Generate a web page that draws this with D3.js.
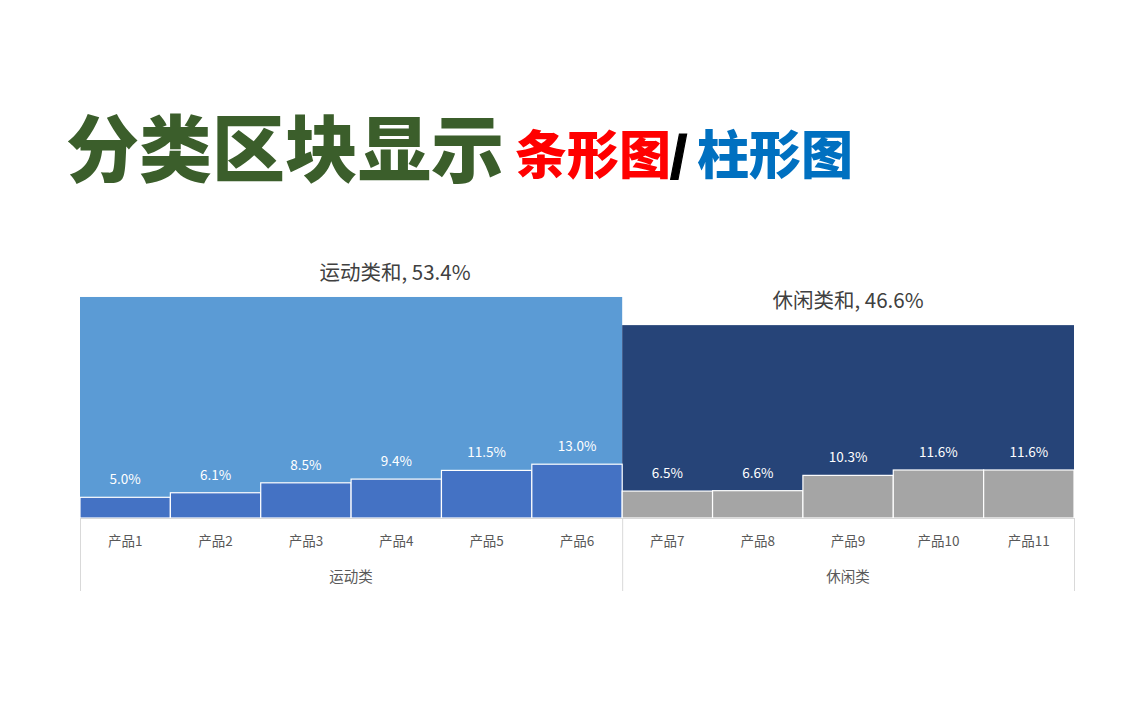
<!DOCTYPE html>
<html><head><meta charset="utf-8">
<script src="https://cdn.jsdelivr.net/npm/d3@7"></script>
<style>body{margin:0;background:#fff;}svg{display:block;font-family:"Noto Sans CJK SC","Noto Sans",sans-serif;}</style>
</head><body>
<svg id="c" width="1136" height="710"></svg>
<script>
const products = ["产品1","产品2","产品3","产品4","产品5","产品6","产品7","产品8","产品9","产品10","产品11"];
const productGroup = ["运动类","运动类","运动类","运动类","运动类","运动类","休闲类","休闲类","休闲类","休闲类","休闲类"];
const productValues = [5.0,6.1,8.5,9.4,11.5,13.0,6.5,6.6,10.3,11.6,11.6];
const groups = ["运动类","休闲类"];
const groupTotals = [53.4,46.6];
const groupLabels = ["运动类和, 53.4%","休闲类和, 46.6%"];
const groupColors = ["#5B9BD5","#264478"];
const barColors = ["#4472C4","#A5A5A5"];

const svg = d3.select("#c");
const left = 80, right = 1074, base = 518;
const x = d3.scaleBand().domain(products).range([left,right]).padding(0);
const y = d3.scaleLinear().domain([0,60]).range([base, base-60*4.139]);

// title
svg.append("text").attr("x",66).attr("y",176).style("font-weight","900").style("font-size","73px")
  .attr("fill","#3B5E2B").text("分类区块显示");
svg.append("text").attr("x",515).attr("y",174).style("font-weight","900").style("font-size","52px")
  .attr("fill","#FF0000").text("条形图");
svg.append("text").attr("x",670).attr("y",178).style("font-weight","bold").style("font-size","62px")
  .style("font-family","'Liberation Sans',sans-serif").attr("fill","#000").attr("stroke","#000").attr("stroke-width",1.2).text("/");
svg.append("text").attr("x",697).attr("y",174).style("font-weight","900").style("font-size","52px")
  .attr("fill","#0070C0").text("柱形图");

// group big rects
const labelCenterShift = [44, 0];
groups.forEach((g,i)=>{
  const members = products.filter((p,j)=>productGroup[j]===g);
  const x0 = x(members[0]), x1 = x(members[members.length-1])+x.bandwidth();
  svg.append("rect").attr("x",x0).attr("y",y(groupTotals[i])).attr("width",x1-x0).attr("height",base-y(groupTotals[i])).attr("fill",groupColors[i]);
  svg.append("text").attr("x",(x0+x1)/2+labelCenterShift[i]).attr("y",y(groupTotals[i])-17).attr("text-anchor","middle")
    .attr("fill","#404040").style("font-size","20.5px").text(groupLabels[i]);
  svg.append("text").attr("x",(x0+x1)/2).attr("y",582).attr("text-anchor","middle")
    .attr("fill","#595959").style("font-size","14.5px").text(g);
});

// product bars
products.forEach((p,j)=>{
  const gi = groups.indexOf(productGroup[j]);
  svg.append("rect").attr("x",x(p)).attr("y",y(productValues[j])).attr("width",x.bandwidth()).attr("height",base-y(productValues[j]))
    .attr("fill",barColors[gi]).attr("stroke","#ffffff").attr("stroke-width",1.2);
  svg.append("text").attr("x",x(p)+x.bandwidth()/2).attr("y",y(productValues[j])-13).attr("text-anchor","middle")
    .attr("fill","#ffffff").style("font-size","13.5px").text(productValues[j].toFixed(1)+"%");
  svg.append("text").attr("x",x(p)+x.bandwidth()/2).attr("y",546).attr("text-anchor","middle")
    .attr("fill","#595959").style("font-size","13.5px").text(p);
});

// axis lines
svg.append("line").attr("x1",left).attr("x2",right).attr("y1",base+0.5).attr("y2",base+0.5).attr("stroke","#D9D9D9");
[left, x("产品7"), right].forEach(v=>{
  svg.append("line").attr("x1",v+0.5).attr("x2",v+0.5).attr("y1",base).attr("y2",591).attr("stroke","#D9D9D9");
});
</script>
</body></html>
